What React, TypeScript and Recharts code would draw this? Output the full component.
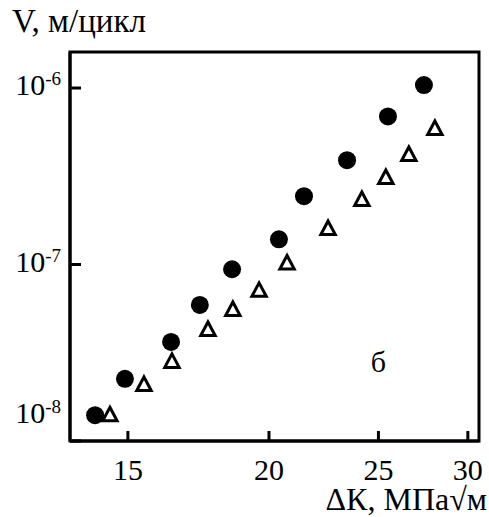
import React from 'react';
import { ScatterChart, Scatter, XAxis, YAxis, ReferenceArea } from 'recharts';

// ΔK, MPa√m  and  V, m/cycle — filled circles
const circleDK = [14.03, 14.91, 16.38, 17.37, 18.55, 20.41, 21.48, 23.45, 25.49, 27.43];
const circleV = [1.4e-8, 2.25e-8, 3.64e-8, 5.9e-8, 9.4e-8, 1.39e-7, 2.44e-7, 3.9e-7, 6.9e-7, 1.04e-6];

// open triangles
const triangleDK = [14.46, 15.5, 16.41, 17.66, 18.58, 19.6, 20.75, 22.56, 24.17, 25.38, 26.6, 28.05];
const triangleV = [1.38e-8, 2.05e-8, 2.77e-8, 4.2e-8, 5.45e-8, 7.0e-8, 1.0e-7, 1.57e-7, 2.29e-7, 3.05e-7, 4.12e-7, 5.78e-7];

const xTicks = [15, 20, 25, 30];
const yTicks = [1e-8, 1e-7, 1e-6];
const xDomain: [number, number] = [13.33, 30.69];
const yDomain: [number, number] = [1e-8, 1.6e-6];

const yTitle = 'V, м/цикл';
const xTitle = 'ΔК, МПа√м';
const panelLabel = 'б';
const panelLabelData = [{ x: 25, y: 2.8e-8 }];

const circleData = circleDK.map((x, i) => ({ x, y: circleV[i] }));
const triangleData = triangleDK.map((x, i) => ({ x, y: triangleV[i] }));

const FONT = "'Liberation Serif', 'Times New Roman', serif";
const FS = 30;
const INK = '#000000';

const Dot = (p: any) => <circle cx={p.cx} cy={p.cy} r={9} fill={INK} />;
const Tri = (p: any) => {
  const { cx, cy } = p;
  return (
    <path
      d={`M${cx},${cy - 9} L${cx + 7.2},${cy + 4.5} L${cx - 7.2},${cy + 4.5} Z`}
      fill="#ffffff"
      stroke={INK}
      strokeWidth={3}
    />
  );
};
const PanelText = (p: any) => (
  <text x={p.cx} y={p.cy + 10} textAnchor="middle" fontSize={FS} fontFamily={FONT} fill={INK}>
    {panelLabel}
  </text>
);

// inward ticks (negative tickSize, default tickMargin 2); labels pushed back outside the frame
const XTick = (props: any) => {
  const { x, y, payload } = props;
  return (
    <text x={x} y={y + 47} textAnchor="middle" fontSize={FS} fontFamily={FONT} fill={INK}>
      {payload.value}
    </text>
  );
};

const YTick = (props: any) => {
  const { x, y, payload } = props;
  const exp = Math.round(Math.log10(payload.value));
  const atMin = payload.value === yDomain[0];
  const base = atMin ? y - 18 : y + 7;
  return (
    <text x={x - 18} y={base} textAnchor="end" fontSize={FS} fontFamily={FONT} fill={INK}>
      10
      <tspan dy={-10} fontSize={19}>
        {String(exp)}
      </tspan>
    </text>
  );
};

export default function App() {
  return (
    <div style={{ position: 'relative', width: 489, height: 517 }}>
      <style>{'body{margin:0;overflow:hidden;}'}</style>
      <ScatterChart width={489} height={517} margin={{ top: 52, right: 10, bottom: 0, left: 0 }}>
        <ReferenceArea
          x1={xDomain[0]}
          x2={xDomain[1]}
          y1={yDomain[0]}
          y2={yDomain[1]}
          ifOverflow="visible"
          fill="#ffffff"
          fillOpacity={0}
          stroke={INK}
          strokeWidth={3}
        />
        <XAxis
          dataKey="x"
          type="number"
          scale="log"
          domain={xDomain}
          allowDataOverflow
          ticks={xTicks}
          tick={<XTick />}
          tickLine={{ stroke: INK, strokeWidth: 3 }}
          tickSize={-10}
          height={76}
          axisLine={{ stroke: INK, strokeWidth: 3 }}
        />
        <YAxis
          dataKey="y"
          type="number"
          scale="log"
          domain={yDomain}
          allowDataOverflow
          ticks={yTicks}
          tick={<YTick />}
          tickLine={{ stroke: INK, strokeWidth: 3 }}
          tickSize={-11}
          width={70}
          axisLine={{ stroke: INK, strokeWidth: 3 }}
        />
        <Scatter data={circleData} shape={<Dot />} isAnimationActive={false} />
        <Scatter data={triangleData} shape={<Tri />} isAnimationActive={false} />
        <Scatter data={panelLabelData} shape={<PanelText />} isAnimationActive={false} />
      </ScatterChart>
      <svg width={489} height={517} style={{ position: 'absolute', left: 0, top: 0, pointerEvents: 'none' }}>
        <text x={12} y={32} fontSize={33} fontFamily={FONT} fill={INK}>
          {yTitle}
        </text>
        <text x={487} y={510} textAnchor="end" fontSize={32} fontFamily={FONT} fill={INK}>
          {xTitle}
        </text>
      </svg>
    </div>
  );
}
